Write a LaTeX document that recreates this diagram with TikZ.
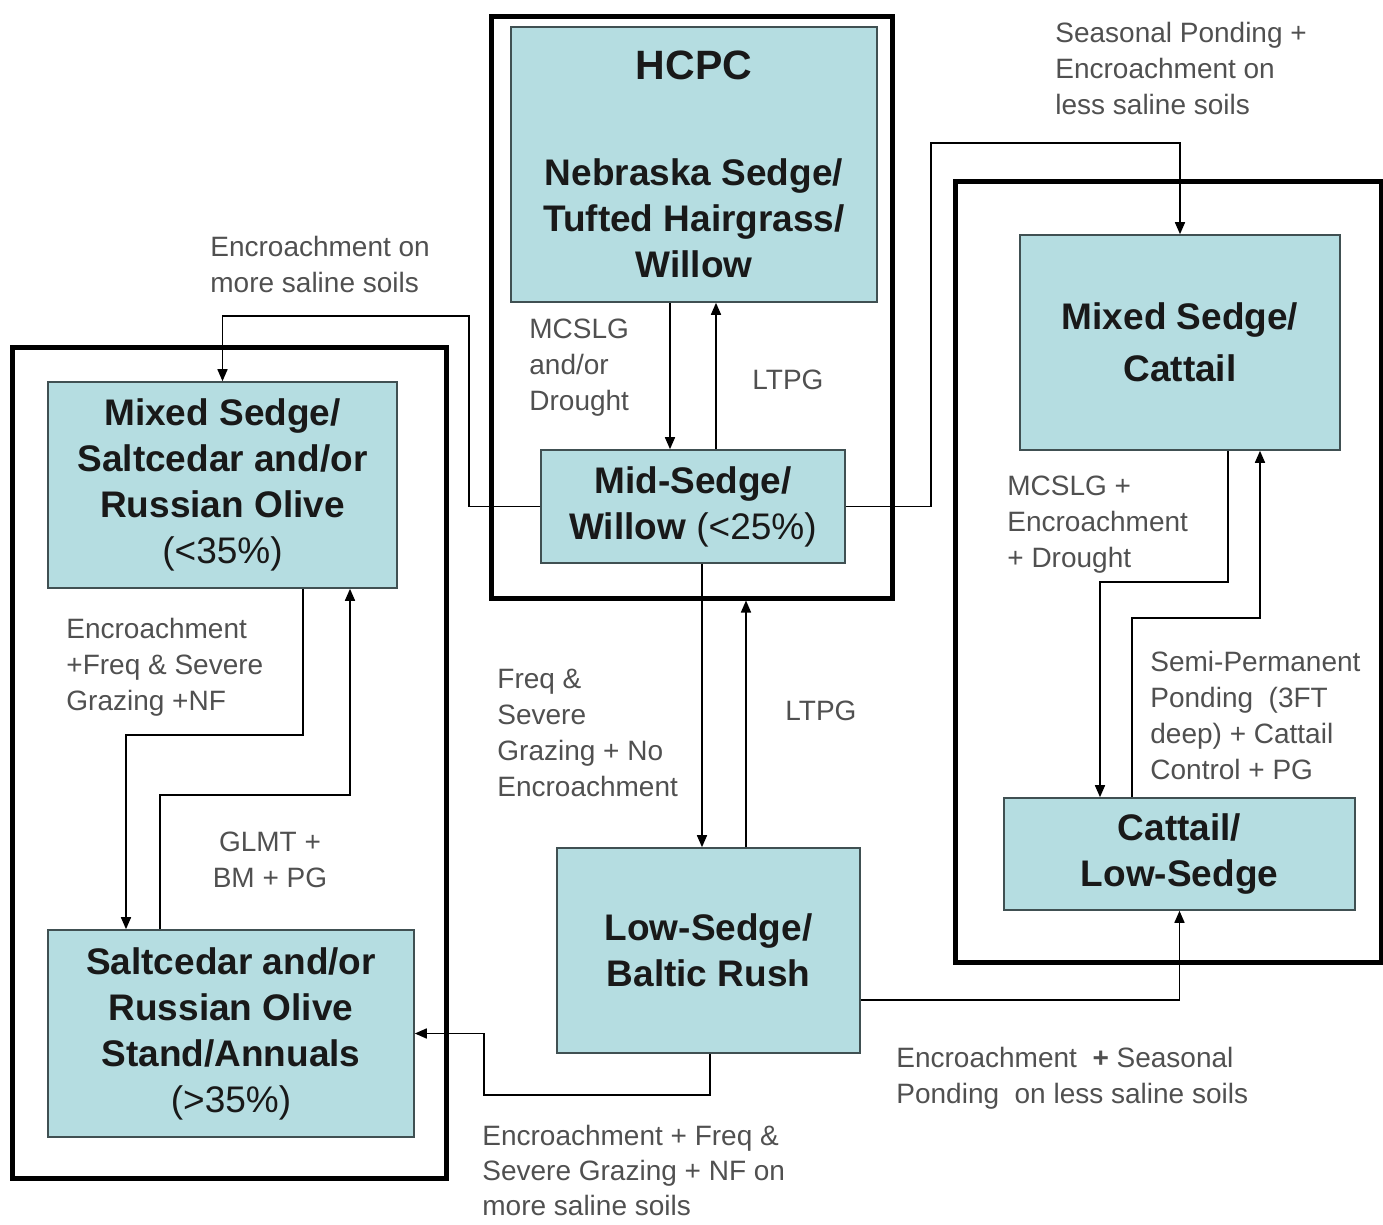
\documentclass[tikz,border=0pt]{standalone}
\usepackage{fontspec}
\setmainfont{Liberation Sans}
\usetikzlibrary{arrows.meta}
\definecolor{boxfill}{RGB}{181,221,225}
\definecolor{boxline}{RGB}{64,80,82}
\definecolor{labgrey}{RGB}{80,80,80}

\begin{document}
\begin{tikzpicture}[x=.5pt, y=-.5pt, >={Triangle[length=6pt, width=5pt]},
  box/.style={draw=boxline, line width=.8pt, fill=boxfill, align=center, text=black!90, font=\fontsize{18.5}{23}\selectfont\bfseries},
  frame/.style={draw, line width=2.5pt, inner sep=0pt},
  lab/.style={anchor=north west, inner sep=0pt, align=left, text=labgrey, font=\fontsize{14}{18}\selectfont},
  link/.style={->, line width=.8pt}]
  \useasboundingbox (0,0) rectangle (1383,1225);
  % frames
  \node [frame, minimum width=200.5pt, minimum height=290.5pt] (cframe) at (691.5,307.5) {};
  \node [frame, minimum width=217pt, minimum height=415pt] (lframe) at (229,763) {};
  \node [frame, minimum width=213pt, minimum height=390pt] (rframe) at (1168,572) {};
  % states
  \node [box, minimum width=183pt, minimum height=137.5pt] (hcpc) at (694,164.5)
    {{\fontsize{20.5}{24}\selectfont HCPC}\\[30pt]Nebraska Sedge/\\Tufted Hairgrass/\\Willow};
  \node [box, minimum width=152pt, minimum height=56.5pt] (mid) at (693,506.5)
    {Mid-Sedge/\\Willow {\mdseries (<25\%)}};
  \node [box, minimum width=174.5pt, minimum height=103pt] (mss) at (222.5,485)
    {Mixed Sedge/\\Saltcedar and/or\\Russian Olive\\{\mdseries (<35\%)}};
  \node [box, minimum width=183pt, minimum height=103.5pt] (stand) at (231,1033.5)
    {Saltcedar and/or\\Russian Olive\\Stand/Annuals\\{\mdseries (>35\%)}};
  \node [box, minimum width=160pt, minimum height=107.5pt] (msc) at (1180,342.5)
    {Mixed Sedge/\\[3pt]Cattail};
  \node [box, minimum width=175.5pt, minimum height=56pt] (cls) at (1179.5,854)
    {Cattail/\\Low-Sedge};
  \node [box, minimum width=151.5pt, minimum height=102.5pt] (lsb) at (708.5,950.5)
    {Low-Sedge/\\Baltic Rush};
  % transitions
  \draw [link] (hcpc.south -| 670,0) -- (mid.north -| 670,0);
  \draw [link] (mid.north -| 716,0) -- (hcpc.south -| 716,0);
  \draw [link] (mid.west) -| (469,316) -| (mss.north);
  \draw [link] (mid.east) -| (931,143) -| (msc.north);
  \draw [link] (mid.south -| 702,0) -- (lsb.north -| 702,0);
  \draw [link] (lsb.north -| 746,0) -- (cframe.south -| 746,0);
  \draw [link] (mss.south -| 303,0) |- (126,735) -- (stand.north -| 126,0);
  \draw [link] (stand.north -| 160,0) |- (350,795) -- (mss.south -| 350,0);
  \draw [link] (lsb.south -| 710,0) |- (484,1095) |- (stand.east);
  \draw [link] (lsb.east |- 0,1000) -| (cls.south);
  \draw [link] (msc.south -| 1228,0) |- (1100,582) -- (cls.north -| 1100,0);
  \draw [link] (cls.north -| 1132,0) |- (1260,618) -- (msc.south -| 1260,0);
  % labels
  \node [lab] (l1) at (210,236) {Encroachment on\\more saline soils};
  \node [lab] (l2) at (1055,22) {Seasonal Ponding +\\Encroachment on\\less saline soils};
  \node [lab] (l3) at (529,319) {MCSLG\\and/or\\Drought};
  \node [lab] (l4) at (752,370) {LTPG};
  \node [lab] (l5) at (66,618) {Encroachment\\+Freq \& Severe\\Grazing +NF};
  \node [lab, anchor=north, align=center] (l6) at (270,832) {GLMT +\\BM + PG};
  \node [lab] (l7) at (497,669) {Freq \&\\Severe\\Grazing + No\\Encroachment};
  \node [lab] (l8) at (785,701) {LTPG};
  \node [lab] (l9) at (1007,476) {MCSLG +\\Encroachment\\+ Drought};
  \node [lab] (l10) at (1150,651) {Semi-Permanent\\Ponding~ (3FT\\deep) + Cattail\\Control + PG};
  \node [lab] (l11) at (896,1047) {Encroachment~ {\bfseries +} Seasonal\\Ponding~ on less saline soils};
  \node [lab, font=\fontsize{14}{17.5}\selectfont] (l12) at (482,1125) {Encroachment + Freq \&\\Severe Grazing + NF on\\more saline soils};
\end{tikzpicture}
\end{document}
